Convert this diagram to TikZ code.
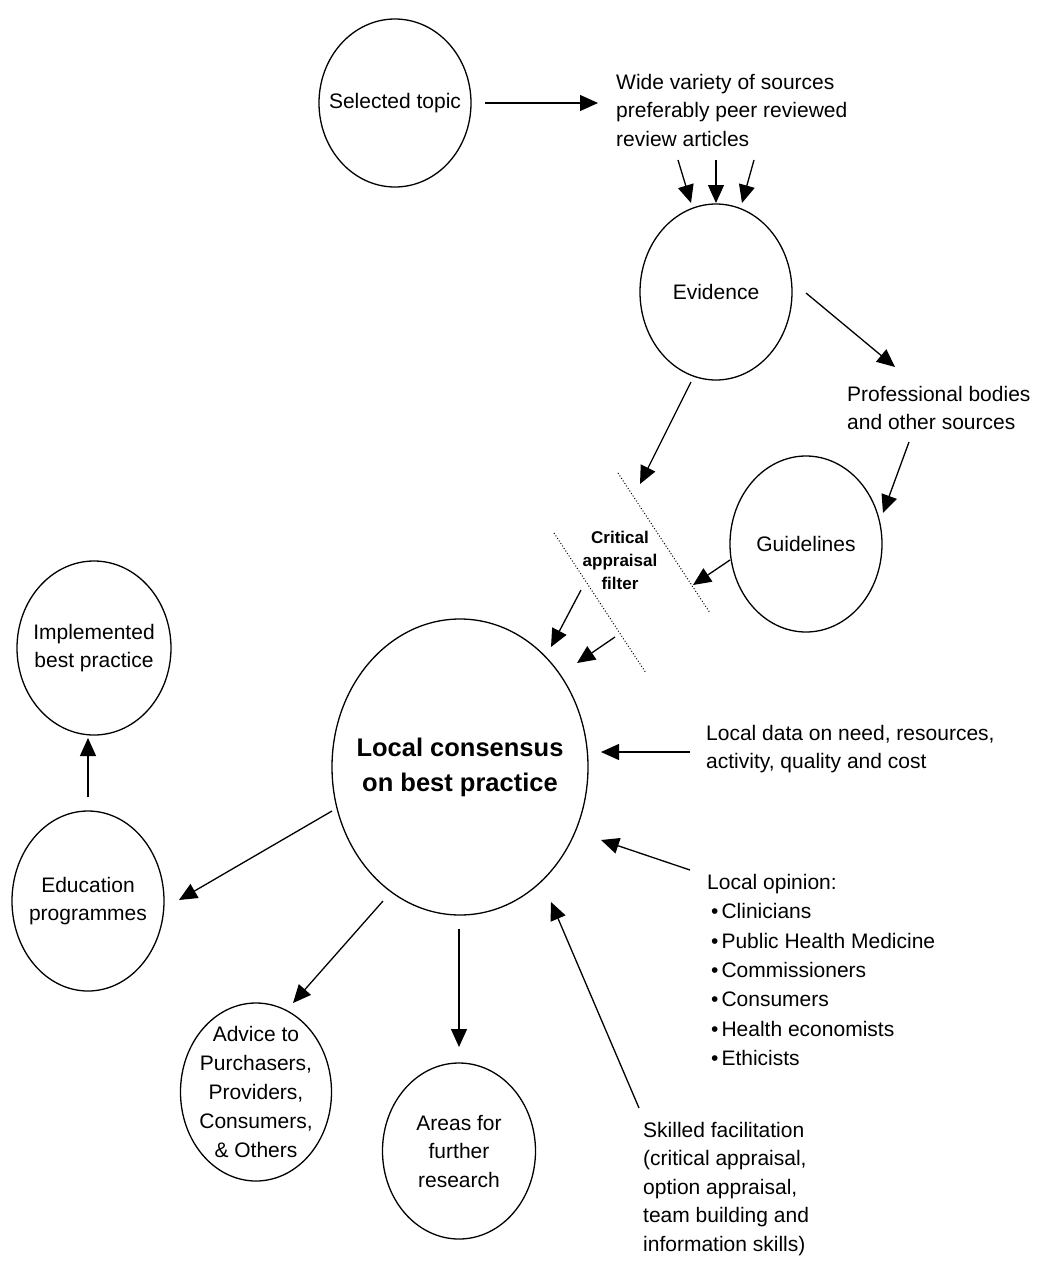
\documentclass[tikz,border=0pt]{standalone}
\usepackage{fontspec}
\setmainfont{Liberation Sans}
\usetikzlibrary{shapes.geometric,arrows.meta}
\begin{document}
\begin{tikzpicture}[x=1pt,y=-1pt,
  ell/.style={draw,ellipse,line width=1.3pt,inner sep=0pt},
  lab/.style={inner sep=0pt,align=center,font=\fontsize{21}{28.5}\selectfont},
  txt/.style={inner sep=0pt,align=left,font=\fontsize{21}{28.5}\selectfont},
  arr/.style={-{Triangle[length=18pt,width=16pt]},line width=1.3pt},
  filt/.style={line width=1pt,dash pattern=on 1pt off 2pt}]
\useasboundingbox[fill=white] (0,0) rectangle (1041,1264);

% ellipses (text as centred labels so the ellipse keeps its own size)
\node[ell,minimum width=152pt,minimum height=168pt,label={[lab]center:Selected topic}] (sel) at (395,103) {};
\node[ell,minimum width=152pt,minimum height=176pt,label={[lab]center:Evidence}] (ev) at (716,292) {};
\node[ell,minimum width=152pt,minimum height=176pt,label={[lab]center:Guidelines}] (gl) at (806,544) {};
\node[ell,minimum width=256pt,minimum height=296pt,
  label={[lab,font=\bfseries\fontsize{25.5}{35}\selectfont]center:{Local consensus\\on best practice}}] (lc) at (460,767) {};
\node[ell,minimum width=152pt,minimum height=180pt,label={[lab]center:{Education\\programmes}}] (edu) at (88,901) {};
\node[ell,minimum width=154pt,minimum height=174pt,label={[lab]center:{Implemented\\best practice}}] (impl) at (94,648) {};
\node[ell,minimum width=151pt,minimum height=178pt,
  label={[lab,font=\fontsize{21}{29}\selectfont]center:{Advice to\\Purchasers,\\Providers,\\Consumers,\\\& Others}}] (adv) at (256,1092) {};
\node[ell,minimum width=153pt,minimum height=176pt,label={[lab]center:{Areas for\\further\\research}}] (area) at (459,1151) {};

% free texts
\node[txt,anchor=west] (wide) at (616,110) {Wide variety of sources\\preferably peer reviewed\\review articles};
\node[txt,anchor=west] (prof) at (847,408) {Professional bodies\\and other sources};
\node[inner sep=0pt,align=center,font=\bfseries\fontsize{17}{23}\selectfont] (crit) at (620,560) {Critical\\appraisal\\filter};
\node[txt,anchor=west] (ldata) at (706,749) {Local data on need, resources,\\activity, quality and cost};
\node[txt,anchor=west,font=\fontsize{21}{29.3}\selectfont] (lop) at (707,970) {Local opinion:\\
\hspace{4pt}\textbullet\hspace{3pt}Clinicians\\
\hspace{4pt}\textbullet\hspace{3pt}Public Health Medicine\\
\hspace{4pt}\textbullet\hspace{3pt}Commissioners\\
\hspace{4pt}\textbullet\hspace{3pt}Consumers\\
\hspace{4pt}\textbullet\hspace{3pt}Health economists\\
\hspace{4pt}\textbullet\hspace{3pt}Ethicists};
\node[txt,anchor=west] (skill) at (643,1189) {Skilled facilitation\\(critical appraisal,\\option appraisal,\\team building and\\information skills)};

% filter lines
\coordinate (f1a) at (618,473); \coordinate (f1b) at (710,613);
\coordinate (f2a) at (554,533); \coordinate (f2b) at (646,673);
\draw[filt] (f1a) -- (f1b);
\draw[filt] (f2a) -- (f2b);

% connector end points
\coordinate (a1s) at (485,103);  \coordinate (a1e) at (598,103);
\coordinate (a2s) at (678,160);  \coordinate (a2e) at (691,203);
\coordinate (a3s) at (716,160);  \coordinate (a3e) at (716,203);
\coordinate (a4s) at (754,160);  \coordinate (a4e) at (742,203);
\coordinate (a5s) at (806,293);  \coordinate (a5e) at (895,367);
\coordinate (a6s) at (909,442);  \coordinate (a6e) at (883,513);
\coordinate (a7s) at (730,560);  \coordinate (a7e) at (693,585);
\coordinate (a8s) at (691,382);  \coordinate (a8e) at (640,484);
\coordinate (a9s) at (581,590);  \coordinate (a9e) at (551,647);
\coordinate (b1s) at (615,637);  \coordinate (b1e) at (577,663);
\coordinate (b2s) at (690,752);  \coordinate (b2e) at (601,752);
\coordinate (b3s) at (690,870);  \coordinate (b3e) at (601,840);
\coordinate (b4s) at (639,1108); \coordinate (b4e) at (551,902);
\coordinate (b5s) at (332,811);  \coordinate (b5e) at (179,900);
\coordinate (b6s) at (88,797);   \coordinate (b6e) at (88,738);
\coordinate (b7s) at (383,901);  \coordinate (b7e) at (293,1003);
\coordinate (b8s) at (459,929);  \coordinate (b8e) at (459,1047);

\foreach \s/\e in {a1s/a1e,a2s/a2e,a3s/a3e,a4s/a4e,a5s/a5e,a6s/a6e,a7s/a7e,a8s/a8e,a9s/a9e,
  b1s/b1e,b2s/b2e,b3s/b3e,b4s/b4e,b5s/b5e,b6s/b6e,b7s/b7e,b8s/b8e}
  \draw[arr] (\s) -- (\e);
\end{tikzpicture}
\end{document}
